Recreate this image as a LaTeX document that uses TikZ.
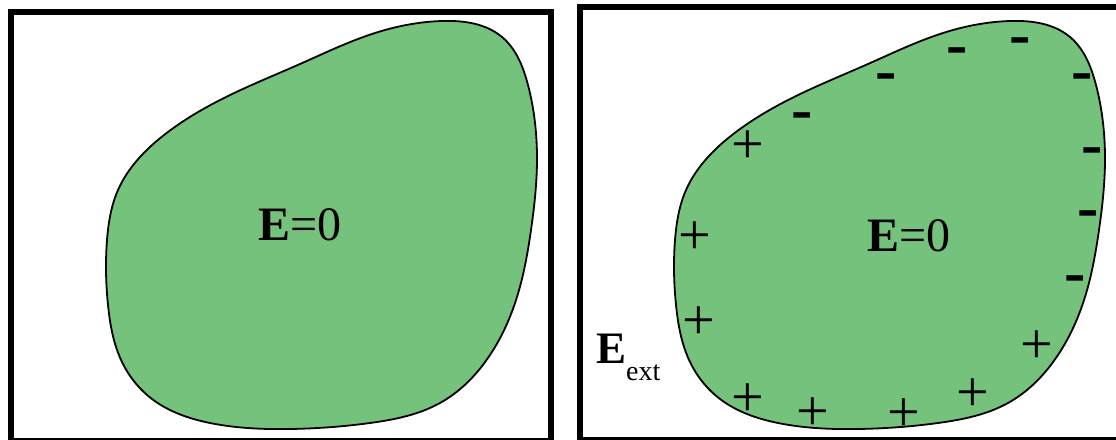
\documentclass[tikz,border=0pt]{standalone}
\usepackage{fontspec}
\setmainfont{Liberation Serif}
\usetikzlibrary{hobby}
\definecolor{blobgreen}{RGB}{116,194,124}
\tikzset{
  blob/.style={draw=black, line width=1.8pt, fill=blobgreen},
  frame/.style={draw=black, line width=6pt},
  plussign/.style={font=\fontsize{58}{58}\selectfont, inner sep=0pt, yshift=-3pt},
  minussign/.style={font=\fontsize{64}{64}\selectfont\bfseries, inner sep=0pt, yshift=-8pt},
  bigtext/.style={font=\fontsize{48}{50}\selectfont, inner sep=0pt, anchor=base},
}
\begin{document}
\begin{tikzpicture}[x=1pt, y=-1pt]
\useasboundingbox (0,0) rectangle (1116,439);
\def\blobpath{plot[closed hobby] coordinates {
 (442,21) (502,37) (528,85) (537,160) (531,230) (517,297) (490,355) (440,403)
 (370,423) (290,429) (210,423) (152,399) (122,362) (108,305) (107,240) (118,190)
 (140,157) (172,129) (224,98) (300,64) (375,33)}}
% frames
\draw[frame] (11,12) rectangle (551,441);
\draw[frame] (579.5,7) rectangle (1125,440);
% blobs
\draw[blob] \blobpath;
\begin{scope}[xshift=568pt]
\draw[blob] \blobpath;
\end{scope}
% labels
\node[bigtext] (e0left) at (300,240) {\textbf{E}=0};
\node[bigtext] (e0right) at (909,251) {\textbf{E}=0};
\node[font=\fontsize{45}{47}\selectfont, inner sep=0pt, anchor=base west] (eext) at (596,363)
  {\textbf{E}\raisebox{-17pt}{\fontsize{28}{30}\selectfont ext}};
% negative charges
\node[minussign] (m1) at (802,114) {-};
\node[minussign] (m2) at (886,75) {-};
\node[minussign] (m3) at (957,49) {-};
\node[minussign] (m4) at (1020,39) {-};
\node[minussign] (m5) at (1082,75) {-};
\node[minussign] (m6) at (1092,149) {-};
\node[minussign] (m7) at (1088,212) {-};
\node[minussign] (m8) at (1075,277) {-};
% positive charges
\node[plussign] (p1) at (748,144) {+};
\node[plussign] (p2) at (695,235) {+};
\node[plussign] (p3) at (699,320) {+};
\node[plussign] (p4) at (748,397) {+};
\node[plussign] (p5) at (813,411) {+};
\node[plussign] (p6) at (904,412) {+};
\node[plussign] (p7) at (973,392) {+};
\node[plussign] (p8) at (1037,344) {+};
\end{tikzpicture}
\end{document}
